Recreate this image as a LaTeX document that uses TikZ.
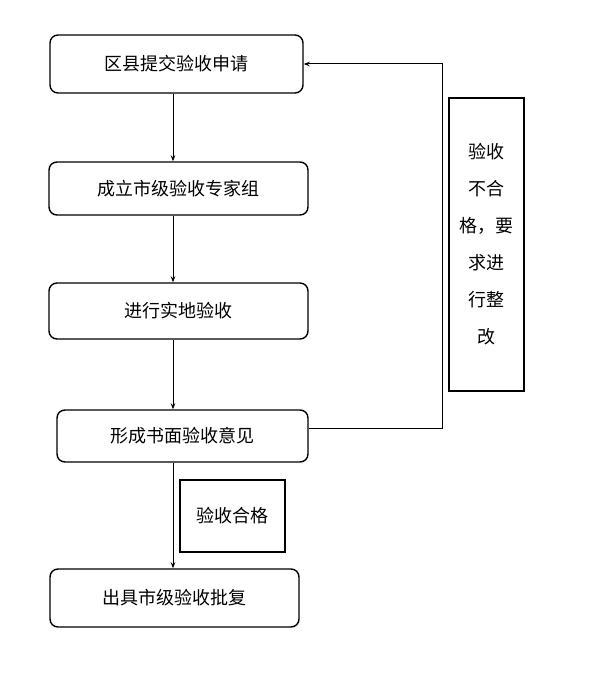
\documentclass[tikz,border=0pt]{standalone}
\usepackage{fontspec}
\setmainfont{Noto Sans CJK SC}
\usetikzlibrary{arrows.meta}

\tikzset{
  stepbox/.style={draw,rounded corners=8pt,line width=1.4pt,inner sep=0pt,font=\fontsize{18}{20}\selectfont},
  notebox/.style={draw,line width=2.6pt,inner sep=0pt,align=center},
}

\begin{document}
\begin{tikzpicture}[x=1pt,y=-1pt,>={Stealth[length=6pt,width=4.5pt]},line width=1pt]
\useasboundingbox (0,0) rectangle (595,693);
\node[stepbox,minimum width=253pt,minimum height=58pt] (apply) at (176.5,64) {区县提交验收申请};
\node[stepbox,minimum width=259pt,minimum height=53pt] (team) at (178.5,188.5) {成立市级验收专家组};
\node[stepbox,minimum width=259pt,minimum height=56pt] (site) at (178.5,311) {进行实地验收};
\node[stepbox,minimum width=251pt,minimum height=52pt] (opinion) at (182.5,436) {形成书面验收意见};
\node[stepbox,minimum width=249pt,minimum height=58pt] (reply) at (174.5,598) {出具市级验收批复};
\node[notebox,minimum width=105pt,minimum height=72pt,font=\fontsize{18}{20}\selectfont] (pass) at (232.5,516) {验收合格};
\node[notebox,minimum width=75pt,minimum height=293pt,font=\fontsize{18}{37}\selectfont] (fail) at (486.5,244.5)
  {验收\\不合\\格，要\\求进\\行整\\改};
\coordinate (axis) at (173,0);\coordinate (back) at (442,428);
\draw[->] (apply.south -| axis)--(team.north -| axis);
\draw[->] (team.south -| axis)--(site.north -| axis);
\draw[->] (site.south -| axis)--(opinion.north -| axis);
\draw[->] (opinion.south -| axis)--(reply.north -| axis);
\draw[->] (opinion.east |- back)--(back)|-(apply.east);
\end{tikzpicture}
\end{document}
